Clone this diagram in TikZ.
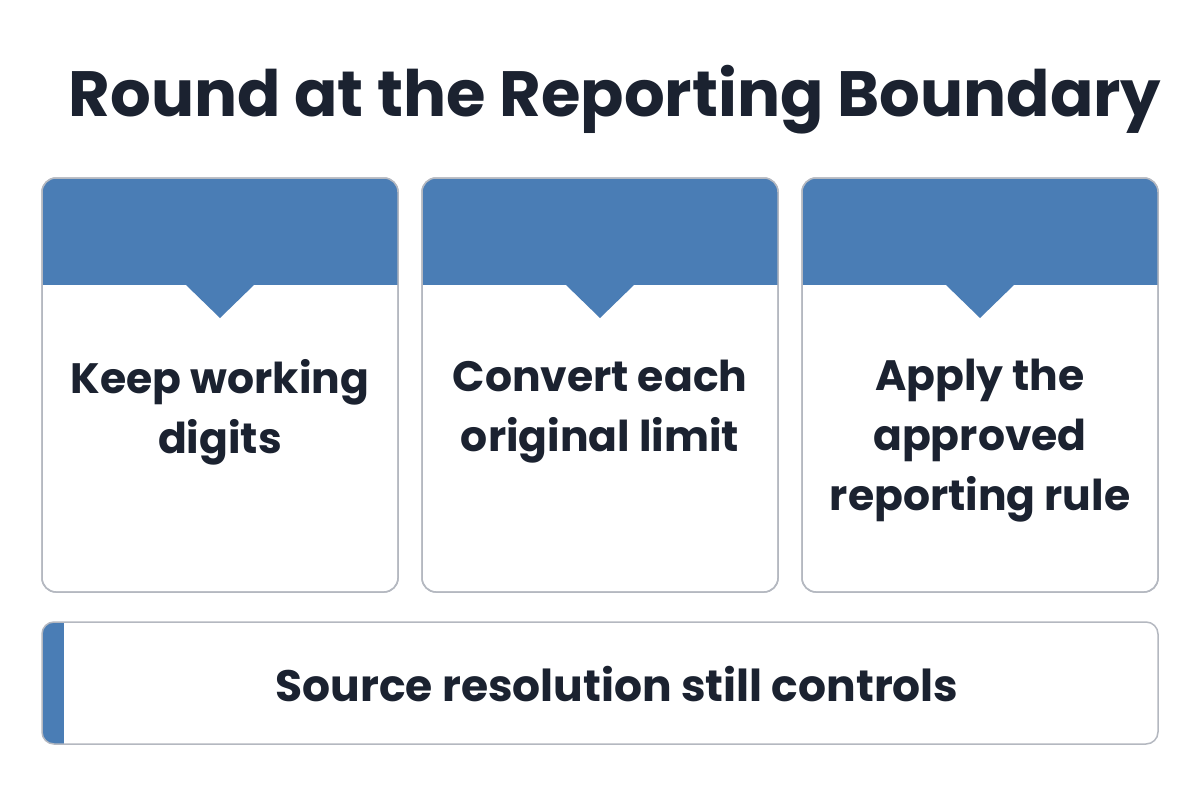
\documentclass[tikz,border=0pt]{standalone}
\usepackage{fontspec}
\setmainfont{Poppins}
\definecolor{hdr}{HTML}{4A7DB5}
\definecolor{brd}{HTML}{B4B8C0}
\definecolor{txt}{HTML}{1B2230}
\begin{document}
\begin{tikzpicture}[x=1pt,y=-1pt,
  card/.style={draw=brd,line width=1.5pt,fill=white,rounded corners=14pt},
  lbl/.style={text=txt,font=\fontsize{42.5}{60}\selectfont\bfseries,align=center}]
\useasboundingbox (0,0) rectangle (1200,800);
\fill[white] (0,0) rectangle (1200,800);
\node[text=txt,font=\fontsize{64}{66}\selectfont\bfseries] (title) at (615,100) {Round at the Reporting Boundary};
\foreach \i/\x in {1/42,2/422,3/802}{
  \draw[card] (\x,178) rectangle ++(356,414);
  \begin{scope}
    \clip[rounded corners=14pt] (\x,178) rectangle ++(356,414);
    \fill[hdr] (\x,178) rectangle ++(356,107);
  \end{scope}
  \fill[hdr] (\x+143,284) -- (\x+213,284) -- (\x+178,318) -- cycle;
  \draw[brd,line width=1.5pt,rounded corners=14pt] (\x,178) rectangle ++(356,414);
}
\node[lbl] (a) at (220,412) {Keep working\\digits};
\node[lbl] (b) at (600,412) {Convert each\\original limit};
\node[lbl] (c) at (980,441) {Apply the\\approved\\reporting rule};
\begin{scope}
  \clip[rounded corners=12pt] (42,622) rectangle (1158,744);
  \fill[white] (42,622) rectangle (1158,744);
  \fill[hdr] (42,622) rectangle (64,744);
\end{scope}
\draw[brd,line width=1.5pt,rounded corners=12pt] (42,622) rectangle (1158,744);
\node[lbl,font=\fontsize{44}{50}\selectfont\bfseries] (d) at (617,684) {Source resolution still controls};
\end{tikzpicture}
\end{document}
